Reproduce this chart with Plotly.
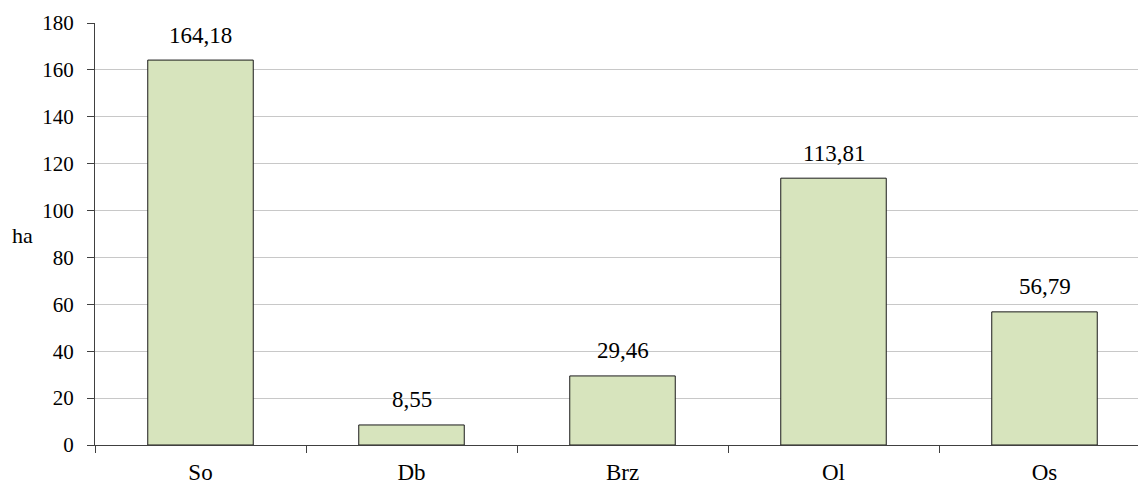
import plotly.graph_objects as go

# Area per species (ha)
species = ["So", "Db", "Brz", "Ol", "Os"]
area_ha = [164.18, 8.55, 29.46, 113.81, 56.79]
y_ticks = [0, 20, 40, 60, 80, 100, 120, 140, 160, 180]

FONT = "Liberation Serif, Times New Roman, serif"
W, H = 1138, 484
ML, MR, MT, MB = 95, 0, 23, 39
PLOT_W = W - ML - MR

labels = [f"{v:.2f}".replace(".", ",") for v in area_ha]

fig = go.Figure(
    go.Bar(
        x=species,
        y=area_ha,
        width=0.5,
        marker=dict(color="#d7e4bd", line=dict(color="#1a1a1a", width=1)),
        hoverinfo="skip",
    )
)

# value labels above each bar
annotations = [
    dict(
        x=s, y=v, xref="x", yref="y", text=t,
        showarrow=False, xanchor="center", yanchor="middle", yshift=25,
        font=dict(family=FONT, size=23, color="#000000"),
    )
    for s, v, t in zip(species, area_ha, labels)
]

# y-axis unit
annotations.append(
    dict(
        text="ha", xref="paper", yref="paper",
        x=(22 - ML) / PLOT_W, y=0.4976,
        xanchor="center", yanchor="middle", showarrow=False,
        font=dict(family=FONT, size=22, color="#000000"),
    )
)

fig.update_layout(
    width=W,
    height=H,
    margin=dict(l=ML, r=MR, t=MT, b=MB),
    paper_bgcolor="white",
    plot_bgcolor="white",
    showlegend=False,
    font=dict(family=FONT, size=21, color="#000000"),
    xaxis=dict(
        type="category",
        range=[-0.5, -0.5 + PLOT_W / 211],
        tickson="boundaries",
        ticks="outside",
        ticklen=7,
        tickcolor="#404040",
        showline=True,
        linecolor="#404040",
        linewidth=1,
        showgrid=False,
        ticklabelstandoff=6,
        tickfont=dict(family=FONT, size=23),
    ),
    yaxis=dict(
        range=[0, 180],
        tickvals=y_ticks,
        ticks="outside",
        ticklen=7,
        tickcolor="#404040",
        showline=True,
        linecolor="#404040",
        linewidth=1,
        showgrid=True,
        gridcolor="#c8c8c8",
        gridwidth=1,
        zeroline=False,
        ticklabelstandoff=9,
        tickfont=dict(family=FONT, size=21),
    ),
    annotations=annotations,
)

fig.write_html("out.html")
